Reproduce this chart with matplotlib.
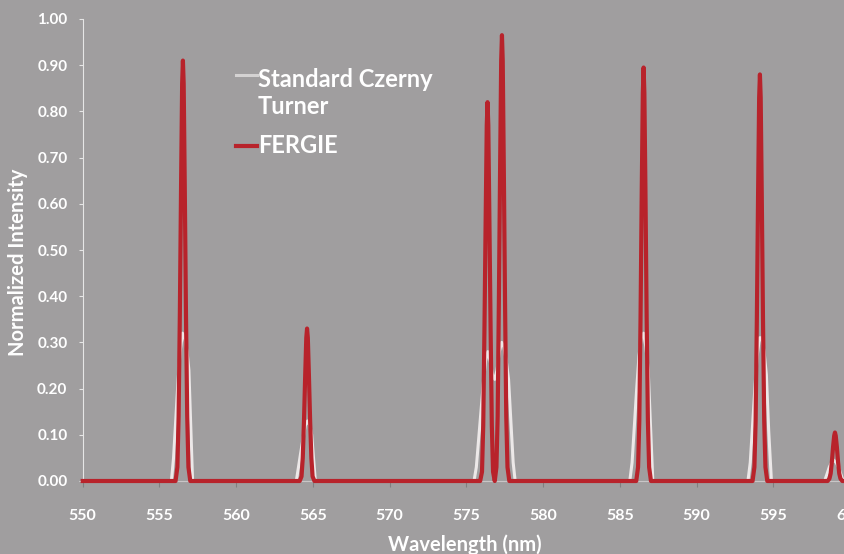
import matplotlib
matplotlib.use("Agg")
import matplotlib.pyplot as plt
from matplotlib.lines import Line2D

plt.rcParams['font.family'] = ['Lato', 'DejaVu Sans']
plt.rcParams['font.weight'] = 'bold'

# ---- data ----
wl_standard = [550.0,
               555.78, 555.92, 556.06, 556.20, 556.35, 556.50, 556.65, 556.80, 556.92, 557.04, 557.16,
               563.92, 564.06, 564.20, 564.35, 564.50, 564.65, 564.80, 564.92, 565.04, 565.16,
               575.50, 575.65, 575.80, 575.95, 576.10, 576.25, 576.40, 576.55, 576.70, 576.85,
               577.00, 577.15, 577.30, 577.45, 577.60, 577.75, 577.90, 578.05, 578.18,
               585.65, 585.80, 585.95, 586.10, 586.25, 586.40, 586.55, 586.70, 586.85, 587.00, 587.15,
               593.35, 593.50, 593.65, 593.80, 593.95, 594.10, 594.25, 594.40, 594.55, 594.70, 594.88,
               598.35, 598.50, 598.65, 598.80, 598.95, 599.10, 599.25, 599.40, 599.55,
               600.0]
int_standard = [0.0,
                0.0, 0.05, 0.13, 0.21, 0.28, 0.32, 0.31, 0.28, 0.24, 0.12, 0.0,
                0.0, 0.03, 0.06, 0.09, 0.12, 0.13, 0.12, 0.10, 0.05, 0.0,
                0.0, 0.03, 0.09, 0.15, 0.21, 0.26, 0.28, 0.26, 0.23, 0.22,
                0.24, 0.28, 0.30, 0.29, 0.26, 0.22, 0.13, 0.04, 0.0,
                0.0, 0.04, 0.12, 0.20, 0.27, 0.31, 0.32, 0.29, 0.24, 0.12, 0.0,
                0.0, 0.04, 0.12, 0.20, 0.27, 0.31, 0.31, 0.28, 0.23, 0.11, 0.0,
                0.0, 0.015, 0.03, 0.04, 0.045, 0.04, 0.03, 0.015, 0.0,
                0.0]

wl_fergie = [550.0,
             556.05, 556.17, 556.25, 556.33, 556.41, 556.48, 556.53, 556.58, 556.65, 556.73, 556.81, 556.89, 557.01,
             564.14, 564.26, 564.34, 564.42, 564.50, 564.57, 564.62, 564.67, 564.74, 564.82, 564.90, 564.98, 565.10,
             575.90, 576.02, 576.10, 576.18, 576.26, 576.33, 576.38, 576.43, 576.50, 576.58, 576.66, 576.74, 576.85,
             576.85, 576.96, 577.04, 577.12, 577.20, 577.27, 577.32, 577.37, 577.44, 577.52, 577.60, 577.68, 577.80,
             586.07, 586.19, 586.27, 586.35, 586.43, 586.50, 586.55, 586.60, 586.67, 586.75, 586.83, 586.91, 587.03,
             593.65, 593.77, 593.85, 593.93, 594.01, 594.08, 594.13, 594.18, 594.25, 594.33, 594.41, 594.49, 594.61,
             598.54, 598.66, 598.74, 598.82, 598.90, 598.97, 599.02, 599.07, 599.14, 599.22, 599.30, 599.38, 599.50,
             600.0]
int_fergie = [0.0,
              0.0, 0.03, 0.14, 0.36, 0.64, 0.86, 0.91, 0.86, 0.64, 0.36, 0.14, 0.03, 0.0,
              0.0, 0.01, 0.05, 0.13, 0.23, 0.31, 0.33, 0.31, 0.23, 0.13, 0.05, 0.01, 0.0,
              0.0, 0.02, 0.12, 0.33, 0.57, 0.77, 0.82, 0.77, 0.57, 0.33, 0.12, 0.02, 0.0,
              0.0, 0.03, 0.14, 0.39, 0.68, 0.91, 0.965, 0.91, 0.68, 0.39, 0.14, 0.03, 0.0,
              0.0, 0.03, 0.13, 0.35, 0.63, 0.84, 0.895, 0.84, 0.63, 0.35, 0.13, 0.03, 0.0,
              0.0, 0.03, 0.13, 0.35, 0.62, 0.83, 0.88, 0.83, 0.62, 0.35, 0.13, 0.03, 0.0,
              0.0, 0.005, 0.016, 0.042, 0.075, 0.098, 0.105, 0.098, 0.075, 0.042, 0.016, 0.005, 0.0,
              0.0]

x_ticks = [550, 555, 560, 565, 570, 575, 580, 585, 590, 595, 600]
y_ticks = [0.0, 0.1, 0.2, 0.3, 0.4, 0.5, 0.6, 0.7, 0.8, 0.9, 1.0]
series_names = ["Standard Czerny\nTurner", "FERGIE"]

# ---- style ----
BG = '#a09e9f'
RED = '#b8232b'
WHITE_LINE = '#ece8e8'
W, H = 844, 554

fig = plt.figure(figsize=(W / 100, H / 100), dpi=100, facecolor=BG)
ax = fig.add_axes([82.7 / W, 73 / H, (850 - 82.7) / W, 462 / H])
ax.set_facecolor(BG)

ax.plot(wl_standard, int_standard, color=WHITE_LINE, lw=2.2, solid_joinstyle='round', clip_on=False, zorder=2)
ax.plot(wl_fergie, int_fergie, color=RED, lw=3.0, solid_joinstyle='round', clip_on=False, zorder=3)

ax.set_xlim(550, 600)
ax.set_ylim(0, 1)
ax.set_xticks(x_ticks)
ax.set_xticklabels([str(t) for t in x_ticks])
ax.set_yticks(y_ticks)
ax.set_yticklabels([f"{t:.2f}" for t in y_ticks])

for s in ['top', 'right']:
    ax.spines[s].set_visible(False)
ax.spines['left'].set_color('#e6e6e6')
ax.spines['left'].set_linewidth(0.8)
ax.spines['bottom'].set_color('#c8c6c7')
ax.spines['bottom'].set_linewidth(0.8)

ax.tick_params(axis='y', direction='out', length=3, width=0.8, color='#e6e6e6',
               labelcolor='white', labelsize=11, pad=8)
ax.tick_params(axis='x', direction='out', length=4, width=0.8, color='#808080',
               labelcolor='white', labelsize=11.5, pad=16)
for lab in ax.get_xticklabels() + ax.get_yticklabels():
    lab.set_fontweight('bold')

fig.text(18 / W, 1 - 262 / H, "Normalized Intensity", rotation=90, color='white',
         fontsize=14.5, fontweight='bold', ha='center', va='center')
fig.text(465 / W, 1 - 545 / H, "Wavelength (nm)", color='white',
         fontsize=14.5, fontweight='bold', ha='center', va='center')

# ---- legend ----
fig.add_artist(Line2D([236 / W, 257 / W], [1 - 75 / H] * 2, color='#d4d2d2', lw=2.2,
                      transform=fig.transFigure))
fig.add_artist(Line2D([236 / W, 257 / W], [1 - 146 / H] * 2, color=RED, lw=3.0,
                      transform=fig.transFigure))
fig.text(258 / W, 1 - 114 / H, series_names[0], color='white', fontsize=17, fontweight='bold',
         ha='left', va='baseline', linespacing=1.2)
fig.text(258 / W, 1 - 153 / H, series_names[1], color='white', fontsize=17, fontweight='bold',
         ha='left', va='baseline')

fig.savefig("out.png", dpi=100, facecolor=BG)
